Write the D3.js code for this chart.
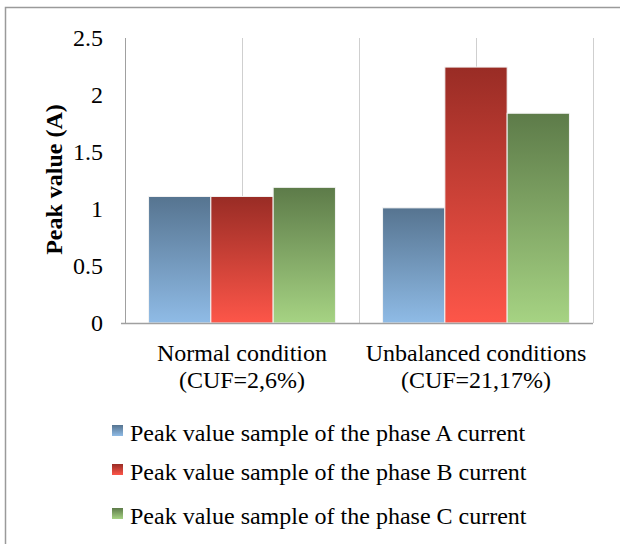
<!DOCTYPE html>
<html>
<head>
<meta charset="utf-8">
<script src="https://cdn.jsdelivr.net/npm/d3@7"></script>
<style>
  body { margin: 0; background: #fff; }
  svg text { font-family: "Liberation Serif", "Times New Roman", serif; fill: #000; }
</style>
</head>
<body>
<div id="chart"></div>
<script>
const categories = [['Normal condition', '(CUF=2,6%)'], ['Unbalanced conditions', '(CUF=21,17%)']];
const seriesNames = [
    'Peak value sample of the phase A current',
    'Peak value sample of the phase B current',
    'Peak value sample of the phase C current'
];
const phaseA = [1.11, 1.01];
const phaseB = [1.11, 2.245];
const phaseC = [1.19, 1.84];
const yTicks = [0, 0.5, 1, 1.5, 2, 2.5];

const seriesValues = [phaseA, phaseB, phaseC];
const colors = [
    { top: '#567490', bottom: '#8fbbe6' },
    { top: '#992c25', bottom: '#fd5649' },
    { top: '#5d7b49', bottom: '#a6d383' }
];

const width = 620, height = 544;
const margin = { top: 38, right: 27, bottom: 221, left: 125 };
const plotW = width - margin.left - margin.right;
const plotH = height - margin.top - margin.bottom;

let svg = d3.select('#chart').append('svg')
    .attr('width', width)
    .attr('height', height);

// gradients
let defs = svg.append('defs');
colors.forEach((c, i) => {
    let g = defs.append('linearGradient')
        .attr('id', `grad-${i}`)
        .attr('x1', 0).attr('y1', 0).attr('x2', 0).attr('y2', 1);
    g.append('stop').attr('offset', '0%').attr('stop-color', c.top);
    g.append('stop').attr('offset', '100%').attr('stop-color', c.bottom);
});

// outer border
svg.append('rect')
    .attr('x', 5.5).attr('y', 7.5)
    .attr('width', 640).attr('height', 560)
    .attr('fill', 'none')
    .attr('stroke', '#9a9a9a')
    .attr('stroke-width', 1.5);

let x = d3.scaleBand()
    .domain(d3.range(categories.length))
    .range([0, plotW])
    .paddingInner(0).paddingOuter(0);

let xSub = d3.scaleBand()
    .domain(d3.range(seriesNames.length))
    .range([0, x.bandwidth()])
    .paddingInner(0).paddingOuter(0.378);

let y = d3.scaleLinear()
    .domain([0, 2.5])
    .range([plotH, 0]);

let plot = svg.append('g')
    .attr('transform', `translate(${margin.left},${margin.top})`);

// vertical gridlines (category boundaries and centres)
let gridX = [];
categories.forEach((c, i) => {
    gridX.push(x(i) + x.bandwidth() / 2);
    gridX.push(x(i) + x.bandwidth());
});
plot.selectAll('.grid')
    .data(gridX)
    .enter().append('line')
    .attr('class', 'grid')
    .attr('x1', d => Math.round(d) + 0.5)
    .attr('x2', d => Math.round(d) + 0.5)
    .attr('y1', 0)
    .attr('y2', plotH)
    .attr('stroke', '#cfcfcf')
    .attr('stroke-width', 1);

// bars
let groups = plot.selectAll('.cat')
    .data(categories)
    .enter().append('g')
    .attr('class', 'cat')
    .attr('transform', (d, i) => `translate(${x(i)},0)`);

groups.selectAll('rect')
    .data((d, i) => seriesValues.map((s, j) => ({ s: j, v: s[i] })))
    .enter().append('rect')
    .attr('x', d => xSub(d.s))
    .attr('y', d => y(d.v))
    .attr('width', xSub.bandwidth())
    .attr('height', d => plotH - y(d.v))
    .attr('fill', d => `url(#grad-${d.s})`)
    .attr('stroke', '#f4f4f4')
    .attr('stroke-width', 1);

// axes
let yAxis = plot.append('g')
    .call(d3.axisLeft(y).tickValues(yTicks).tickSize(0).tickPadding(22).tickFormat(d3.format('')));
yAxis.select('.domain').remove();
yAxis.selectAll('text')
    .style('font-size', '24px')
    .style('font-family', '"Liberation Serif", serif');

plot.append('line')
    .attr('x1', 0.5).attr('x2', 0.5)
    .attr('y1', 0).attr('y2', plotH)
    .attr('stroke', '#a0a0a0');
plot.append('line')
    .attr('x1', -4).attr('x2', plotW)
    .attr('y1', plotH + 0.5).attr('y2', plotH + 0.5)
    .attr('stroke', '#a0a0a0')
    .attr('stroke-width', 1.5);

// category labels
let catLabels = plot.selectAll('.cat-label')
    .data(categories)
    .enter().append('text')
    .attr('class', 'cat-label')
    .attr('text-anchor', 'middle')
    .attr('transform', (d, i) => `translate(${x(i) + x.bandwidth() / 2},${plotH + 38})`)
    .style('font-size', '24px');
catLabels.selectAll('tspan')
    .data(d => d)
    .enter().append('tspan')
    .attr('x', 0)
    .attr('dy', (d, i) => i === 0 ? 0 : 27)
    .text(d => d);

// y axis title
svg.append('text')
    .attr('transform', `translate(62,${margin.top + plotH / 2 - 1}) rotate(-90)`)
    .attr('text-anchor', 'middle')
    .style('font-size', '24px')
    .style('font-weight', 'bold')
    .text('Peak value (A)');

// legend
let legendY = d3.scalePoint()
    .domain(d3.range(seriesNames.length))
    .range([433, 516]);
let legend = svg.selectAll('.legend')
    .data(seriesNames)
    .enter().append('g')
    .attr('class', 'legend')
    .attr('transform', (d, i) => `translate(112,${legendY(i) + [0, -2.5, 0][i]})`);
legend.append('rect')
    .attr('x', 0).attr('y', -8)
    .attr('width', 11).attr('height', 11)
    .attr('fill', (d, i) => `url(#grad-${i})`);
legend.append('text')
    .attr('x', 18)
    .attr('dy', '0.35em')
    .style('font-size', '24px')
    .text(d => d);
</script>
</body>
</html>
